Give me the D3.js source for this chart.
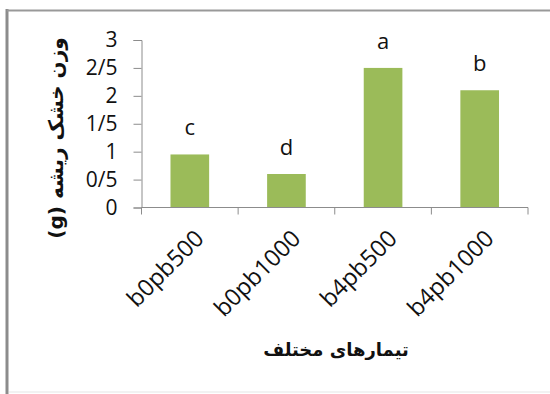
<!DOCTYPE html>
<html>
<head>
<meta charset="utf-8">
<script src="https://cdn.jsdelivr.net/npm/d3@7"></script>
<style>
  body { margin: 0; background: #fff; }
  svg { display: block; }
</style>
</head>
<body>
<svg id="chart" width="550" height="394"></svg>
<script>
// داده ها
const categories = ["b0pb500", "b0pb1000", "b4pb500", "b4pb1000"];
const values = [0.95, 0.6, 2.5, 2.1];
const letters = ["c", "d", "a", "b"];
const yTicks = [0, 0.5, 1, 1.5, 2, 2.5, 3];
const yTickLabels = ["0", "0/5", "1", "1/5", "2", "2/5", "3"];
const yTitle = "وزن خشک ریشه (g)";
const xTitle = "تیمارهای مختلف";

const svg = d3.select("#chart");
const axisColor = "#8c8c8c";
const barColor = "#9bbb59";
const latinFont = "'Open Sans', sans-serif";
const persianFont = "'DejaVu Sans', sans-serif";

// chart frame
svg.append("line")
    .attr("x1", 7).attr("x2", 7).attr("y1", 9).attr("y2", 394)
    .style("stroke", axisColor).style("stroke-width", 3);
svg.append("line")
    .attr("x1", 7).attr("x2", 550).attr("y1", 10.5).attr("y2", 10.5)
    .style("stroke", "#999").style("stroke-width", 2);
svg.append("line")
    .attr("x1", 9).attr("x2", 550).attr("y1", 392).attr("y2", 392)
    .style("stroke", "#eee").style("stroke-width", 1.5);

const plotLeft = 141.5, plotRight = 528, plotTop = 40, plotBottom = 207.5;

const x = d3.scaleBand()
    .domain(categories)
    .range([plotLeft, plotRight])
    .paddingInner(0.6)
    .paddingOuter(0.3);

const y = d3.scaleLinear()
    .domain([0, 3])
    .range([plotBottom, plotTop]);

// bars
svg.selectAll(".bar")
    .data(values)
    .enter()
    .append("rect")
    .attr("class", "bar")
    .attr("x", (d, i) => x(categories[i]))
    .attr("y", d => y(d))
    .attr("width", x.bandwidth())
    .attr("height", d => y(0) - y(d))
    .style("fill", barColor);

// letters over bars
svg.selectAll(".letter")
    .data(values)
    .enter()
    .append("text")
    .attr("class", "letter")
    .attr("x", (d, i) => x(categories[i]) + x.bandwidth() / 2)
    .attr("y", d => y(d) - 19)
    .attr("text-anchor", "middle")
    .style("font-family", latinFont)
    .style("font-size", "22px")
    .style("fill", "#111")
    .text((d, i) => letters[i]);

// y axis
const yAxis = svg.append("g")
    .attr("transform", `translate(${plotLeft},0)`)
    .call(d3.axisLeft(y)
        .tickValues(yTicks)
        .tickSize(8)
        .tickPadding(16)
        .tickFormat((d, i) => yTickLabels[i]));
yAxis.select(".domain").style("stroke", axisColor);
yAxis.selectAll(".tick line").style("stroke", axisColor);
yAxis.selectAll("text")
    .style("font-family", latinFont)
    .style("font-size", "21px")
    .style("fill", "#111");

// x axis, ticks between categories
const boundaries = d3.range(categories.length + 1).map(i => plotLeft + i * (plotRight - plotLeft) / categories.length);
const xAxis = svg.append("g");
xAxis.append("line")
    .attr("x1", plotLeft).attr("x2", plotRight)
    .attr("y1", plotBottom).attr("y2", plotBottom)
    .style("stroke", axisColor);
xAxis.selectAll(".xtick")
    .data(boundaries)
    .enter()
    .append("line")
    .attr("class", "xtick")
    .attr("x1", d => d).attr("x2", d => d)
    .attr("y1", plotBottom).attr("y2", plotBottom + 7)
    .style("stroke", axisColor);

xAxis.selectAll(".xlabel")
    .data(categories)
    .enter()
    .append("text")
    .attr("class", "xlabel")
    .attr("transform", d => `translate(${x(d) + x.bandwidth() / 2 + 3},${plotBottom + 20}) rotate(-45)`)
    .attr("text-anchor", "end")
    .attr("dy", "0.75em")
    .style("font-family", latinFont)
    .style("font-size", "23.5px")
    .style("fill", "#111")
    .text(d => d);

// axis titles
svg.append("text")
    .attr("transform", "translate(63,138) rotate(-90)")
    .attr("text-anchor", "middle")
    .attr("direction", "rtl")
    .style("font-family", persianFont)
    .style("font-size", "20px")
    .style("font-weight", "bold")
    .style("fill", "#111")
    .text(yTitle);

svg.append("text")
    .attr("x", 336)
    .attr("y", 356)
    .attr("text-anchor", "middle")
    .attr("direction", "rtl")
    .style("font-family", persianFont)
    .style("font-size", "18px")
    .style("font-weight", "bold")
    .style("fill", "#111")
    .text(xTitle);
</script>
</body>
</html>
